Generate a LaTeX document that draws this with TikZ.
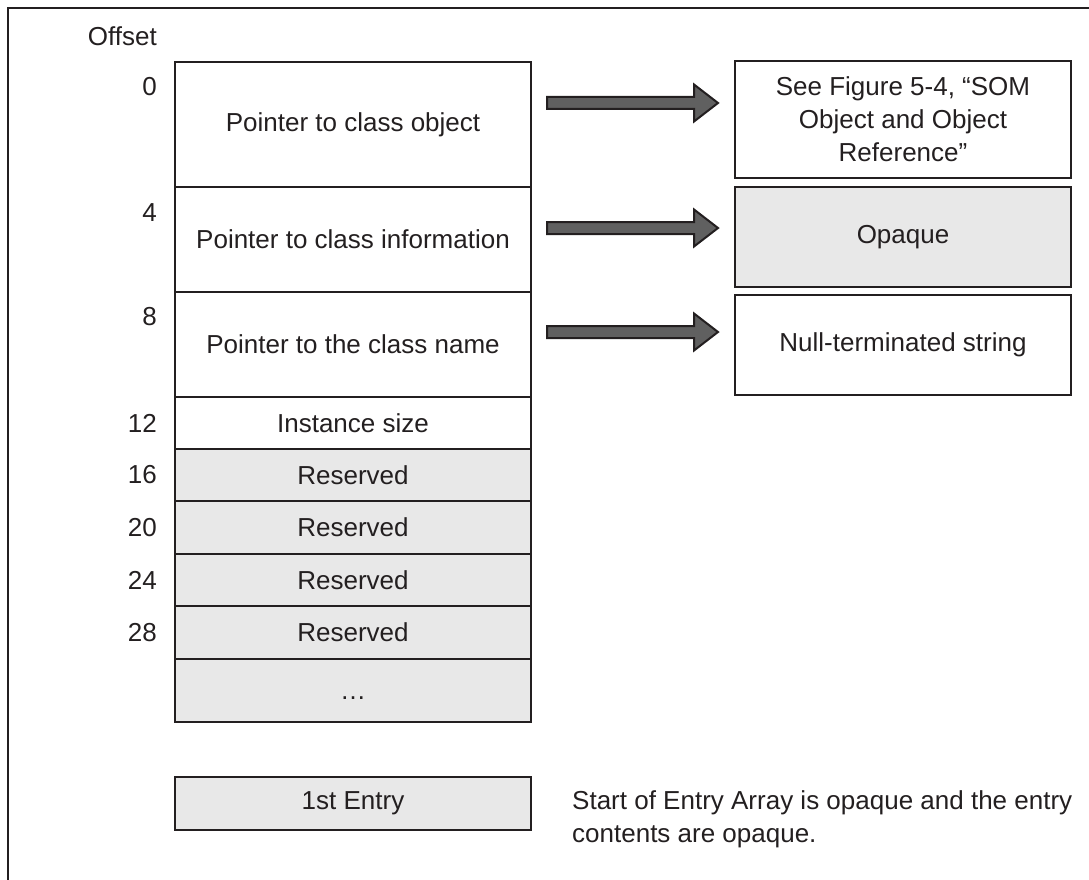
\documentclass[tikz,border=0pt]{standalone}
\usepackage{fontspec}
\setmainfont{Liberation Sans}
\usetikzlibrary{calc}
\definecolor{ink}{HTML}{231F20}
\definecolor{boxgray}{HTML}{E8E8E8}
\definecolor{arrowgray}{HTML}{606060}
\tikzset{
  txt/.style={font=\fontsize{26}{33}\selectfont, text=ink},
  cell/.style={txt, draw=ink, line width=2pt, minimum width=356pt, inner sep=0pt, align=center},
  sidebox/.style={txt, draw=ink, line width=2pt, minimum width=336pt, inner sep=0pt, align=center},
  shaded/.style={fill=boxgray},
  offs/.style={txt, anchor=east, inner sep=0pt},
  blockarrow/.pic={
    \draw[ink, line width=2pt, fill=arrowgray, line join=miter]
      (0,-6) -- (147,-6) -- (147,-18.5) -- (171,0) -- (147,18.5) -- (147,6) -- (0,6) -- cycle;
  }
}
\begin{document}
\begin{tikzpicture}[x=1pt, y=-1pt]
\useasboundingbox (0,0) rectangle (1089,880);

% outer frame (top and left edges)
\draw[ink, line width=2pt] (1089,8) -- (8,8) -- (8,880);

% structure layout column
\node[cell, minimum height=125pt] (r0) at (353,124.5) {Pointer to class object};
\node[cell, minimum height=105pt] (r1) at (353,239.5) {Pointer to class information};
\node[cell, minimum height=105pt] (r2) at (353,344.5) {Pointer to the class name};
\node[cell, minimum height=52pt]  (r3) at (353,423)   {Instance size};
\node[cell, shaded, minimum height=52pt] (r4) at (353,475)   {Reserved};
\node[cell, shaded, minimum height=53pt] (r5) at (353,527.5) {Reserved};
\node[cell, shaded, minimum height=52pt] (r6) at (353,580)   {Reserved};
\node[cell, shaded, minimum height=53pt] (r7) at (353,632.5) {Reserved};
\node[cell, shaded, minimum height=63pt] (r8) at (353,690.5) {};
\node[txt, inner sep=0pt] (dots) at ($(r8.center)+(0,8)$) {…};
\node[cell, shaded, minimum height=53pt] (entry) at (353,803.5) {1st Entry};

% offsets
\node[offs] (hdr) at (157,36) {Offset};
\node[offs] (n0)  at (157,86.5)  {0};
\node[offs] (n4)  at (157,213)   {4};
\node[offs] (n8)  at (157,317)   {8};
\node[offs] (n12) at (157,423)   {12};
\node[offs] (n16) at (157,475)   {16};
\node[offs] (n20) at (157,527.5) {20};
\node[offs] (n24) at (157,580)   {24};
\node[offs] (n28) at (157,632.5) {28};

% referenced data
\node[sidebox, minimum height=117pt] (o0) at (903,119.5)
  {See Figure 5-4, “SOM\\Object and Object\\Reference”};
\node[sidebox, shaded, minimum height=100pt] (o1) at (903,237) {Opaque};
\node[sidebox, minimum height=100pt] (o2) at (903,345) {Null-terminated string};

% pointer arrows
\coordinate (a0) at ($(r0.east)+(15,-21.5)$);
\coordinate (a1) at ($(r1.east)+(15,-11.5)$);
\coordinate (a2) at ($(r2.east)+(15,-12.5)$);
\pic at (a0) {blockarrow};
\pic at (a1) {blockarrow};
\pic at (a2) {blockarrow};

% note beside the entry array
\node[txt, anchor=west, align=left, inner sep=0pt] (note) at (572,819.5)
  {Start of Entry Array is opaque and the entry\\contents are opaque.};
\end{tikzpicture}
\end{document}
